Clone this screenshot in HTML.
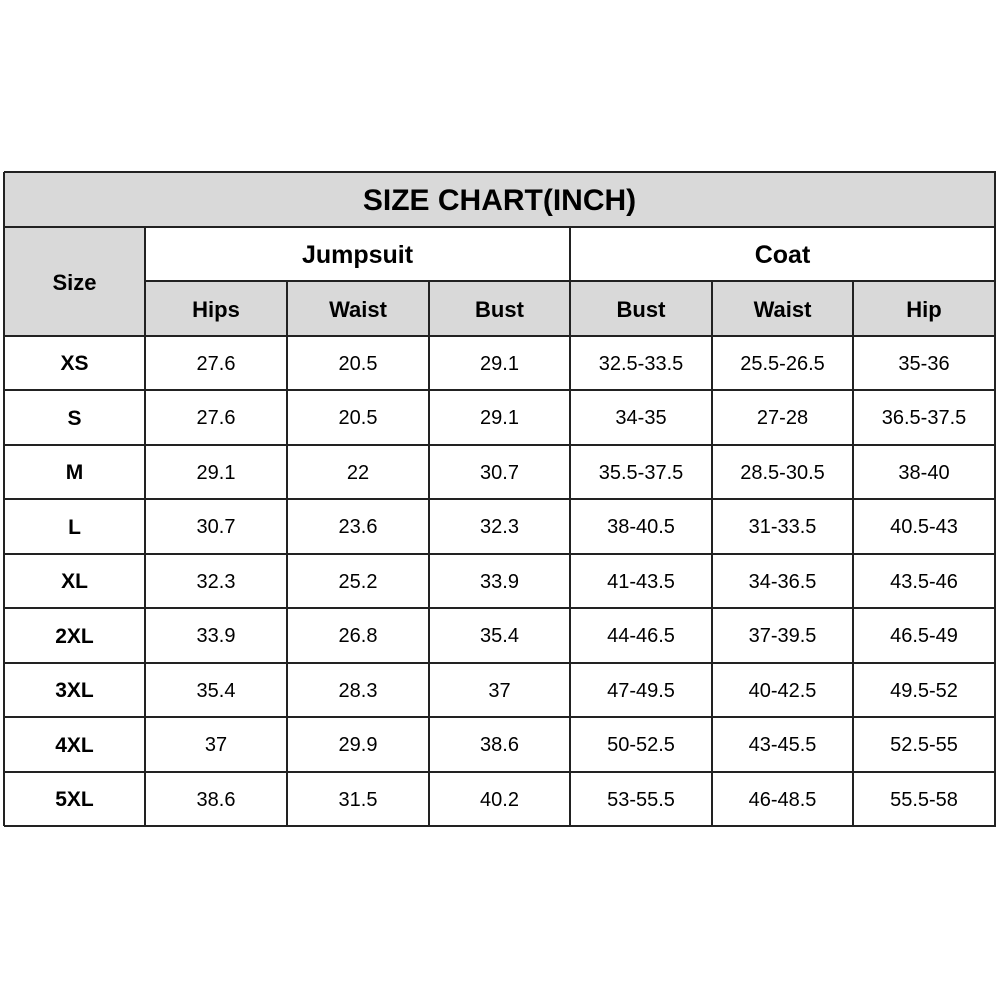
<!DOCTYPE html>
<html><head><style>
body{margin:0;width:1000px;height:1000px;background:#fff;position:relative;font-family:"Liberation Sans",Arial,sans-serif;overflow:hidden}
.c{position:absolute;box-sizing:border-box;display:flex;align-items:center;justify-content:center;color:#000;font-size:20px;padding-top:2px}
.b{font-weight:bold;font-size:22px}
.g{background:#d9d9d9}
.l{position:absolute;background:#222}
</style></head><body>
<div class="c g b" style="left:4px;top:172px;width:991px;height:55px;font-size:30px">SIZE CHART(INCH)</div>
<div class="c g b" style="left:4px;top:227px;width:141px;height:109px">Size</div>
<div class="c b" style="left:145px;top:227px;width:425px;height:54px;font-size:25px">Jumpsuit</div>
<div class="c b" style="left:570px;top:227px;width:425px;height:54px;font-size:25px">Coat</div>
<div id="h"></div>
<script>
var cols=[4,145,287,429,570,712,853,995];
var hd=["Hips","Waist","Bust","Bust","Waist","Hip"];
var rows=[["XS","27.6","20.5","29.1","32.5-33.5","25.5-26.5","35-36"],
["S","27.6","20.5","29.1","34-35","27-28","36.5-37.5"],
["M","29.1","22","30.7","35.5-37.5","28.5-30.5","38-40"],
["L","30.7","23.6","32.3","38-40.5","31-33.5","40.5-43"],
["XL","32.3","25.2","33.9","41-43.5","34-36.5","43.5-46"],
["2XL","33.9","26.8","35.4","44-46.5","37-39.5","46.5-49"],
["3XL","35.4","28.3","37","47-49.5","40-42.5","49.5-52"],
["4XL","37","29.9","38.6","50-52.5","43-45.5","52.5-55"],
["5XL","38.6","31.5","40.2","53-55.5","46-48.5","55.5-58"]];
var s="";
for(var i=0;i<6;i++)s+='<div class="c g b" style="left:'+cols[i+1]+'px;top:281px;width:'+(cols[i+2]-cols[i+1])+'px;height:55px">'+hd[i]+'</div>';
var rh=54.44;
function Y(r){return Math.round(336+r*rh);}
for(var r=0;r<9;r++){var t=Y(r),h=Y(r+1)-t;
for(var i=0;i<7;i++)s+='<div class="c'+(i==0?' b':'')+'" style="left:'+cols[i]+'px;top:'+t+'px;width:'+(cols[i+1]-cols[i])+'px;height:'+h+'px'+(i==0?';font-size:21px':'')+'">'+rows[r][i]+'</div>';}
var hl=[[172,4,995],[227,4,995],[281,145,995],[336,4,995]];
for(var r=1;r<=9;r++)hl.push([Y(r),4,995]);
hl.forEach(function(h){s+='<div class="l" style="left:'+h[1]+'px;top:'+(h[0]-1)+'px;width:'+(h[2]-h[1]+1)+'px;height:2px"></div>'});
var vl=[[4,172,826],[995,172,826],[145,227,826],[570,227,826]];
[287,429,712,853].forEach(function(x){vl.push([x,281,826])});
vl.forEach(function(v){s+='<div class="l" style="left:'+(v[0]-1)+'px;top:'+v[1]+'px;width:2px;height:'+(v[2]-v[1])+'px"></div>'});
document.getElementById("h").innerHTML=s;
</script>
</body></html>
